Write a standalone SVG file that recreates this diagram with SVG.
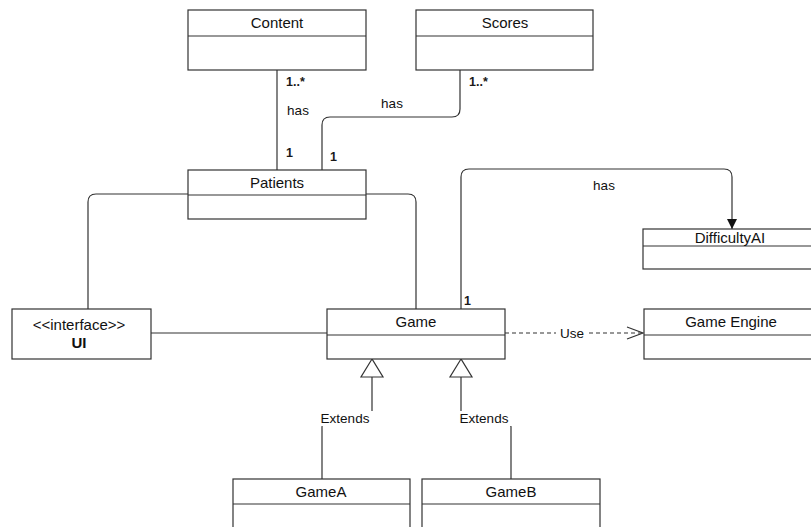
<svg xmlns="http://www.w3.org/2000/svg" width="811" height="527" viewBox="0 0 811 527">
  <style>
    .box { fill: #ffffff; stroke: #333333; stroke-width: 1.2; }
    .sep { stroke: #333333; stroke-width: 1.2; }
    .title { font-family: "Liberation Sans", Arial, sans-serif; font-size: 15px; fill: #111111; text-anchor: middle; }
    .lbl { font-family: "Liberation Sans", Arial, sans-serif; font-size: 13.5px; fill: #111111; text-anchor: middle; }
    .mult { font-family: "Liberation Sans", Arial, sans-serif; font-size: 12.5px; font-weight: bold; fill: #1a1a1a; }
    .edge { fill: none; stroke: #333333; stroke-width: 1.2; }
    .dash { stroke-dasharray: 4 3; }
  </style>
  <defs>
    <marker id="solidArrow" markerWidth="12" markerHeight="12" refX="10" refY="5" orient="auto" markerUnits="userSpaceOnUse">
      <path d="M0,0 L10,5 L0,10 Z" fill="#111111"/>
    </marker>
  </defs>
  <rect width="811" height="527" fill="#ffffff"/>

  <!-- connectors -->
  <g id="connectors">
    <!-- Content — Patients -->
    <path class="edge" d="M277,70 V170"/>
    <!-- Scores — Patients -->
    <path class="edge" d="M460,70 V109 Q460,117 452,117 H330 Q322,117 322,125 V170"/>
    <!-- Patients — UI -->
    <path class="edge" d="M188,194 H96 Q88,194 88,202 V309"/>
    <!-- Patients — Game -->
    <path class="edge" d="M366,194 H408 Q416,194 416,202 V309"/>
    <!-- Game — DifficultyAI -->
    <path class="edge" d="M461,309 V177 Q461,169 469,169 H724 Q732,169 732,177 V229" marker-end="url(#solidArrow)"/>
    <!-- UI — Game -->
    <path class="edge" d="M151,333 H327"/>
    <!-- Game uses Game Engine -->
    <path class="edge dash" d="M505,333 H643"/>
    <polyline class="edge" points="627,327 643,333 627,339"/>
    <rect x="556" y="325" width="32" height="16" fill="#ffffff"/>
    <text class="lbl" x="572" y="338">Use</text>
    <!-- GameA extends Game -->
    <path class="edge" d="M322,479 V427 Q322,419 330,419 H364 Q372,419 372,411 V377"/>
    <polygon class="box" points="372,359 361,377 383,377"/>
    <rect x="319" y="411" width="54" height="15" fill="#ffffff"/>
    <text class="lbl" x="345" y="423">Extends</text>
    <!-- GameB extends Game -->
    <path class="edge" d="M511,479 V427 Q511,419 503,419 H469 Q461,419 461,411 V377"/>
    <polygon class="box" points="461,359 450,377 472,377"/>
    <rect x="458" y="411" width="54" height="15" fill="#ffffff"/>
    <text class="lbl" x="484" y="423">Extends</text>
    <!-- association labels -->
    <text class="mult" x="286" y="86">1..*</text>
    <text class="lbl" x="298" y="115">has</text>
    <text class="mult" x="286" y="157">1</text>
    <text class="mult" x="469" y="86">1..*</text>
    <text class="lbl" x="392" y="108">has</text>
    <text class="mult" x="330" y="161">1</text>
    <text class="lbl" x="604" y="190">has</text>
    <text class="mult" x="464" y="305">1</text>
  </g>

  <g id="content">
    <rect class="box" x="188" y="10" width="178" height="60"/>
    <line class="sep" x1="188" y1="36" x2="366" y2="36"/>
    <text class="title" x="277" y="28">Content</text>
  </g>

  <g id="scores">
    <rect class="box" x="416" y="10" width="177" height="60"/>
    <line class="sep" x1="416" y1="36" x2="593" y2="36"/>
    <text class="title" x="505" y="28">Scores</text>
  </g>

  <g id="patients">
    <rect class="box" x="188" y="170" width="178" height="49"/>
    <line class="sep" x1="188" y1="195" x2="366" y2="195"/>
    <text class="title" x="277" y="188">Patients</text>
  </g>

  <g id="difficultyai">
    <rect class="box" x="643" y="229" width="175" height="40"/>
    <line class="sep" x1="643" y1="246" x2="818" y2="246"/>
    <text class="title" x="730" y="243">DifficultyAI</text>
  </g>

  <g id="ui">
    <rect class="box" x="12" y="309" width="139" height="50"/>
    <text class="title" x="79" y="330">&lt;&lt;interface&gt;&gt;</text>
    <text class="title" x="79" y="348" font-weight="bold">UI</text>
  </g>

  <g id="game">
    <rect class="box" x="327" y="309" width="178" height="50"/>
    <line class="sep" x1="327" y1="335" x2="505" y2="335"/>
    <text class="title" x="416" y="327">Game</text>
  </g>

  <g id="game-engine">
    <rect class="box" x="644" y="309" width="175" height="50"/>
    <line class="sep" x1="644" y1="335" x2="819" y2="335"/>
    <text class="title" x="731" y="327">Game Engine</text>
  </g>

  <g id="gamea">
    <rect class="box" x="233" y="479" width="177" height="60"/>
    <line class="sep" x1="233" y1="504" x2="410" y2="504"/>
    <text class="title" x="321" y="497">GameA</text>
  </g>

  <g id="gameb">
    <rect class="box" x="422" y="479" width="178" height="60"/>
    <line class="sep" x1="422" y1="504" x2="600" y2="504"/>
    <text class="title" x="511" y="497">GameB</text>
  </g>
</svg>
